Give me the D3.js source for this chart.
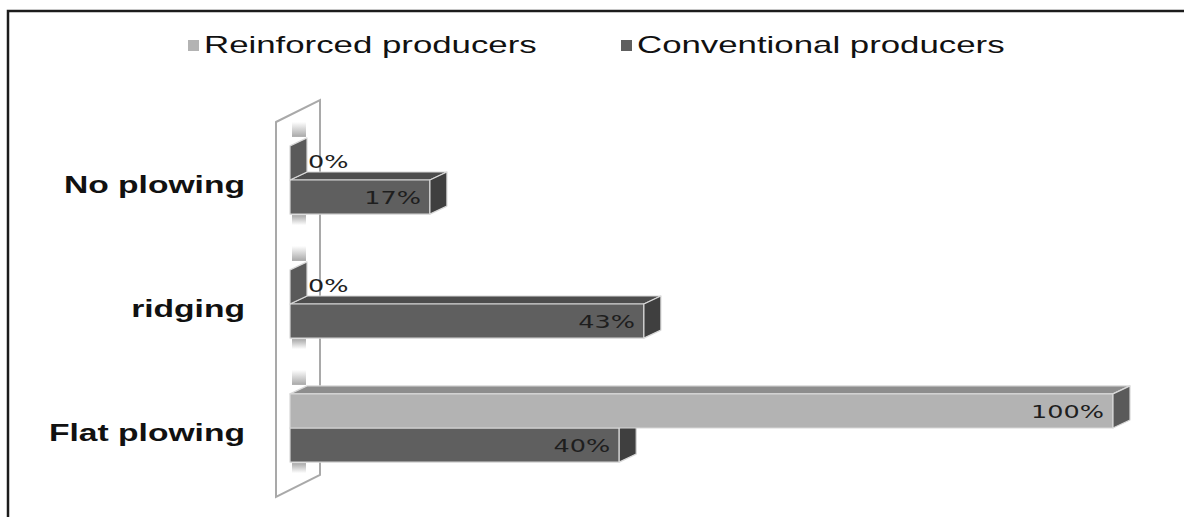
<!DOCTYPE html>
<html><head><meta charset="utf-8">
<script src="https://cdn.jsdelivr.net/npm/d3@7"></script>
<style>body{margin:0;background:#fff}svg{display:block}</style>
</head><body><svg id="c" width="1184" height="517"></svg>
<script>
// ---- data ----
const categories = ["No plowing", "ridging", "Flat plowing"];
const seriesNames = ["Reinforced producers", "Conventional producers"];
const reinforced = [0, 0, 100];
const conventional = [17, 43, 40];
const seriesValues = [reinforced, conventional];

// ---- styles ----
const front = ["#b3b3b3", "#5f5f5f"];
const topC  = ["#8d8d8d", "#4d4d4d"];
const sideC = ["#5a5a5a", "#3f3f3f"];
const legendC = ["#b3b3b3", "#5f5f5f"];
const DX = 17, DY = 8;
const STRETCH = 1.45;

const svg = d3.select("#c");
const defs = svg.append("defs");
const gUp = defs.append("linearGradient").attr("id","shUp").attr("x1",0).attr("y1",0).attr("x2",0).attr("y2",1);
gUp.append("stop").attr("offset","0%").attr("stop-color","#fff");
gUp.append("stop").attr("offset","100%").attr("stop-color","#a8a8a8");
const gDn = defs.append("linearGradient").attr("id","shDn").attr("x1",0).attr("y1",0).attr("x2",0).attr("y2",1);
gDn.append("stop").attr("offset","0%").attr("stop-color","#a8a8a8");
gDn.append("stop").attr("offset","100%").attr("stop-color","#fff");

const x = d3.scaleLinear().domain([0, 100]).range([290, 1113]);
const y = d3.scaleBand().domain(categories).range([118, 490]).paddingInner(0.45).paddingOuter(0.225);
const ys = d3.scaleBand().domain(seriesNames).range([0, y.bandwidth()]);

function stretch(sel, f) {
  sel.each(function(){
    const L = this.getComputedTextLength();
    d3.select(this).attr("textLength", L * f).attr("lengthAdjust", "spacingAndGlyphs");
  });
}

// frame
svg.append("path").attr("d", "M8,517V11H1184").attr("fill","none").attr("stroke","#1c1c1c").attr("stroke-width",2.5);

// wall
const x0 = x(0);
const [r0, r1] = y.range();
svg.append("polygon")
  .attr("points", [[x0-14, r0+4], [x0+30, r0+4-22], [x0+30, r1+7-22], [x0-14, r1+7]].map(p=>p.join(",")).join(" "))
  .attr("fill", "#fff").attr("stroke", "#a9a9a9").attr("stroke-width", 2);

// wall shadows
categories.forEach(c => {
  svg.append("rect").attr("x", x0+2).attr("y", y(c) - DY - 16).attr("width", 14).attr("height", 15).attr("fill","url(#shUp)");
  svg.append("rect").attr("x", x0+2).attr("y", y(c) + y.bandwidth() + 1).attr("width", 14).attr("height", 10).attr("fill","url(#shDn)");
});

// bars
const bars = svg.append("g");
categories.forEach((c, ci) => {
  [1, 0].forEach(si => {
    const v = seriesValues[si][ci];
    const y0 = y(c) + ys(seriesNames[si]);
    const h = ys.bandwidth();
    const x1 = x(v);
    const g = bars.append("g").attr("stroke", "#d8d8d8").attr("stroke-width", 1.2).attr("stroke-linejoin","round");
    if (v > 0) {
      g.append("polygon").attr("points", [[x0,y0],[x1,y0],[x1+DX,y0-DY],[x0+DX,y0-DY]].map(p=>p.join(",")).join(" ")).attr("fill", topC[si]);
      g.append("rect").attr("x", x0).attr("y", y0).attr("width", x1 - x0).attr("height", h).attr("fill", front[si]);
    }
    g.append("polygon").attr("points", [[x1,y0],[x1+DX,y0-DY],[x1+DX,y0+h-DY],[x1,y0+h]].map(p=>p.join(",")).join(" ")).attr("fill", sideC[si]);
  });
});

// data labels
const labels = svg.append("g").attr("font-family", "'DejaVu Sans', Verdana, sans-serif").attr("font-size", 17).attr("fill", "#1e1e1e");
categories.forEach((c, ci) => {
  seriesNames.forEach((s, si) => {
    const v = seriesValues[si][ci];
    const yc = y(c) + ys(s) + ys.bandwidth() / 2;
    const t = labels.append("text").text(v + "%");
    if (v === 0) {
      t.attr("x", x0 + 18).attr("y", yc + 5).attr("text-anchor", "start");
    } else {
      t.attr("x", x(v) - 9).attr("y", yc + 7).attr("text-anchor", "end");
    }
  });
});
stretch(labels.selectAll("text"), 1.5);

// category labels
const cat = svg.append("g").attr("font-family", "'Liberation Sans', Arial, sans-serif").attr("font-weight", "bold").attr("font-size", 24).attr("fill", "#111");
cat.selectAll("text").data(categories).join("text")
  .attr("x", 245).attr("y", d => y(d) + y.bandwidth() / 2 + 13).attr("text-anchor", "end").text(d => d);
stretch(cat.selectAll("text"), 1.4);

// legend
const legX = [188, 621];
const leg = svg.append("g").attr("font-family", "'Liberation Sans', Arial, sans-serif").attr("font-size", 24).attr("fill", "#111");
seriesNames.forEach((s, i) => {
  leg.append("rect").attr("x", legX[i]).attr("y", 40).attr("width", 11).attr("height", 11).attr("fill", legendC[i]);
  leg.append("text").attr("x", legX[i] + 16).attr("y", 53).text(s);
});
stretch(leg.selectAll("text"), 1.45);
</script>
</body></html>
